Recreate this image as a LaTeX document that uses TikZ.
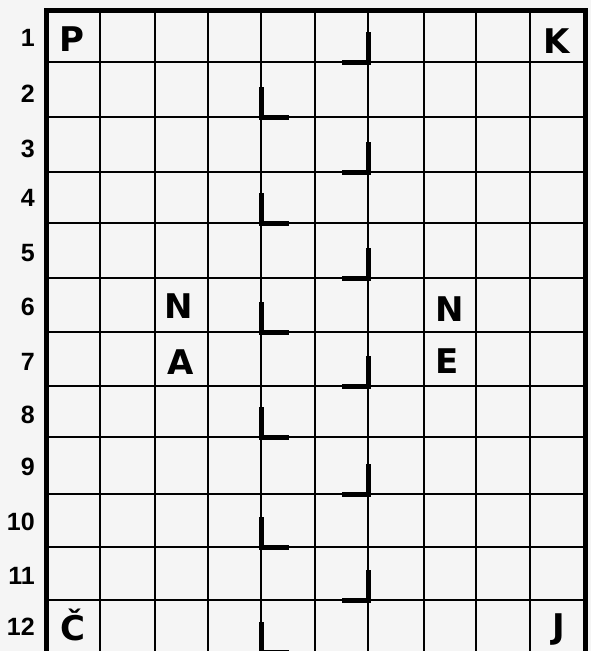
\documentclass[tikz,border=0pt]{standalone}
\usepackage{fontspec}
\setmainfont{Liberation Sans}
\newfontfamily\letterfont{DejaVu Sans}
\definecolor{bgc}{RGB}{245,245,245}
\begin{document}
\begin{tikzpicture}[x=1pt,y=-1pt,
  gridline/.style={line width=2.2pt,black},
  frameline/.style={line width=5pt,black,line join=miter},
  marker/.style={line width=5pt,black,line cap=butt,line join=miter},
  rowlab/.style={font=\fontsize{25}{25}\selectfont\bfseries,anchor=east,inner sep=0pt},
  letter/.style={font=\letterfont\fontsize{34}{34}\selectfont\bfseries,inner sep=0pt}]
\fill[bgc] (0,0) rectangle (591,651);
\useasboundingbox (0,0) rectangle (591,651);
\clip (0,0) rectangle (591,651);
% grid
\foreach \x in {100,155,208,261,315,368,424,476,530}
  \draw[gridline] (\x,10) -- (\x,651);
\foreach \y in {62,117,172,223,278,332,386,437,494,547,600}
  \draw[gridline] (46,\y) -- (585,\y);
\draw[frameline] (46,651) -- (46,10) -- (585,10) -- (585,651);
% row labels
\foreach \n/\y in {1/38,2/94,3/149,4/198,5/253,6/307,7/362,8/415,9/467,10/522,11/576,12/627}
  \node[rowlab] (r\n) at (35,\y) {\n};
% markers
\foreach \b in {62,172,278,386,494,600}
  \draw[marker] (368,\b-30) -- (368,\b) -- (342,\b);
\foreach \b in {117,223,332,437,547,652}
  \draw[marker] (261,\b-30) -- (261,\b) -- (289,\b);
% letters
\node[letter] (lP) at (72,39) {P};
\node[letter] (lK) at (557,41) {K};
\node[letter] (lN1) at (179,306) {N};
\node[letter] (lA) at (181,362) {A};
\node[letter] (lN2) at (450,309) {N};
\node[letter] (lE) at (447,361) {E};
\node[letter] (lC) at (73,625) {Č};
\node[letter] (lJ) at (559,630) {J};
\end{tikzpicture}
\end{document}
